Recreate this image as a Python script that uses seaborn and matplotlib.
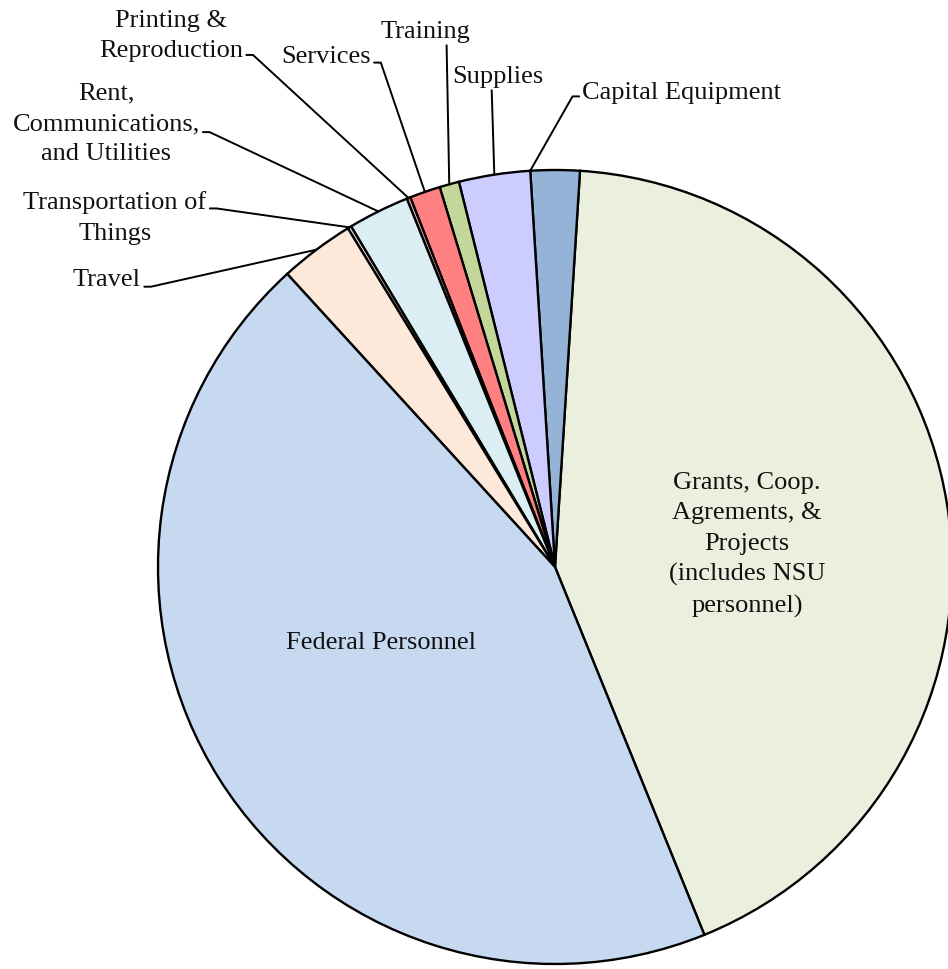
import numpy as np
import matplotlib
matplotlib.use("Agg")
import matplotlib.pyplot as plt
import seaborn as sns

# budget categories, counter-clockwise from the bottom-right edge
categories = ["Grants, Coop.\nAgrements, &\nProjects\n(includes NSU\npersonnel)",
              "Capital Equipment", "Supplies", "Training", "Services",
              "Printing &\nReproduction", "Rent,\nCommunications,\nand Utilities",
              "Transportation of\nThings", "Travel", "Federal Personnel"]
shares = [42.9, 2.0, 2.9, 0.8, 1.25, 0.15, 2.5, 0.15, 3.05, 44.4]
colors = ["#EBF0DE", "#95B3D7", "#CCCCFF", "#C4D79B", "#FF8080",
          "#E6B9B8", "#DBEEF4", "#F2DCDB", "#FDE9D9", "#C6D9F1"]

sns.set_theme(style="white")
plt.rcParams["font.family"] = ["Liberation Serif", "DejaVu Serif"]

W, H = 948, 970
fig = plt.figure(figsize=(W / 100, H / 100), dpi=100)
ax = fig.add_axes([0, 0, 1, 1])

cx, cy, R = 555, H - 568, 397
wedges, _ = ax.pie(shares, colors=colors, startangle=-67.9, counterclock=True,
                   center=(cx, cy), radius=R,
                   wedgeprops=dict(edgecolor="black", linewidth=1.7))
ax.set_xlim(0, W)
ax.set_ylim(0, H)
ax.set_aspect("equal")
ax.axis("off")

fs = 19
ls = 1.5

# labels inside the two big slices
ax.text(747, H - 545, categories[0], ha="center", va="center", fontsize=fs,
        color="#111111", linespacing=ls)
ax.text(381, H - 643, categories[9], ha="center", va="center", fontsize=fs,
        color="#111111")

# outside labels: (text centre in image px, relpos, arm direction, where on wedge)
outside = {
    1: ((682, 93), (0, 0.3), 180, 1.0),
    2: ((498, 77), (0.43, 0), None, 0.5),
    3: ((425, 32), (0.74, 0), None, 0.5),
    4: ((326, 57), (1, 0.2), 0, 0.5),
    5: ((171, 36), (1, 0.12), 0, 0.5),
    6: ((106, 124), (1, 0.39), 0, 0.5),
    7: ((115, 218), (1, 0.66), 0, 0.5),
    8: ((107, 280), (1, 0.15), 0, 0.5),
}

for i, (pos, rel, arm, frac) in outside.items():
    w = wedges[i]
    ang = np.radians(w.theta1 + frac * (w.theta2 - w.theta1))
    xy = (cx + R * np.cos(ang), cy + R * np.sin(ang))
    if arm is None:
        cs = "arc3,rad=0"
    else:
        cs = "arc,angleA=%d,armA=10,angleB=0,armB=0,rad=0" % arm
    ax.annotate(categories[i], xy=xy, xytext=(pos[0], H - pos[1]),
                ha="center", va="center", fontsize=fs, color="#111111",
                linespacing=ls,
                arrowprops=dict(arrowstyle="-", color="black", lw=1.4,
                                connectionstyle=cs, relpos=rel,
                                shrinkA=0, shrinkB=0))

fig.savefig("out.png", dpi=100)
